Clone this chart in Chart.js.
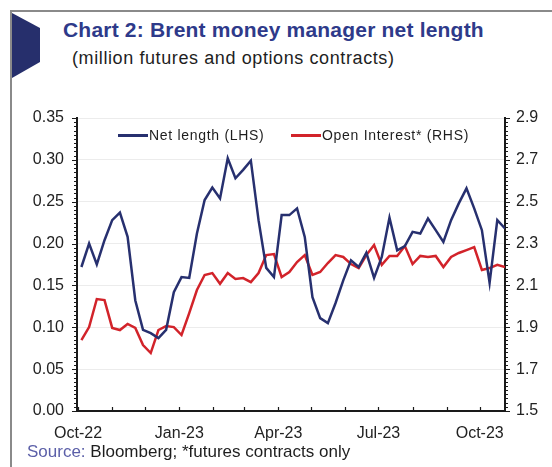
<!DOCTYPE html>
<html lang="en">
<head>
    <meta charset="UTF-8">
    <title>Brent money manager net length</title>
    <script src="https://cdn.jsdelivr.net/npm/chart.js"></script>
    <style>
        body {
            margin: 0;
            width: 552px;
            height: 467px;
            overflow: hidden;
            background: #fff;
            font-family: "Liberation Sans", Arial, sans-serif;
            position: relative;
        }

        .frame {
            position: absolute;
            left: 10px;
            top: 10px;
            width: 600px;
            height: 500px;
            border-left: 2px solid #8a8a8a;
            border-top: 2px solid #8a8a8a;
        }

        .badge {
            position: absolute;
            left: 12px;
            top: 13px;
        }

        .title {
            position: absolute;
            left: 63px;
            top: 18px;
            font-size: 21px;
            letter-spacing: 0.2px;
            font-weight: bold;
            color: #2e3a8a;
            white-space: nowrap;
        }

        .subtitle {
            position: absolute;
            left: 72px;
            top: 48px;
            font-size: 18px;
            letter-spacing: 0.6px;
            color: #1e1e1e;
            white-space: nowrap;
        }

        #chart {
            position: absolute;
            left: 0;
            top: 0;
        }

        .legend-item {
            position: absolute;
            top: 127px;
            font-size: 14px;
            color: #1e1e1e;
            white-space: nowrap;
            letter-spacing: 0.7px;
        }

        .legend-item i {
            display: inline-block;
            width: 30px;
            height: 2.5px;
            vertical-align: middle;
            margin-right: 1px;
            position: relative;
            top: -1px;
        }

        .source {
            position: absolute;
            left: 27px;
            top: 442px;
            font-size: 17px;
            color: #1e1e1e;
            white-space: nowrap;
        }

        .source span {
            color: #5b5fa8;
        }
    </style>
</head>
<body>

    <div class="frame"></div>
    <svg class="badge" width="30" height="68">
        <polygon points="0,0 28,15 28,49 0,65" fill="#262f6c" />
    </svg>
    <div class="title">Chart 2: Brent money manager net length</div>
    <div class="subtitle">(million futures and options contracts)</div>

    <canvas id="chart" width="552" height="467"></canvas>

    <div class="legend-item" style="left:118px"><i style="background:#27306f"></i>Net length (LHS)</div>
    <div class="legend-item" style="left:291px"><i style="background:#d2232a"></i>Open Interest* (RHS)</div>

    <div class="source"><span>Source:</span> Bloomberg; *futures contracts only</div>

    <script>
        // weekly observations (Tuesdays)
        const weeks = [
            '2022-10-04', '2022-10-11', '2022-10-18', '2022-10-25',
            '2022-11-01', '2022-11-08', '2022-11-15', '2022-11-22', '2022-11-29',
            '2022-12-06', '2022-12-13', '2022-12-20', '2022-12-27',
            '2023-01-03', '2023-01-10', '2023-01-17', '2023-01-24', '2023-01-31',
            '2023-02-07', '2023-02-14', '2023-02-21', '2023-02-28',
            '2023-03-07', '2023-03-14', '2023-03-21', '2023-03-28',
            '2023-04-04', '2023-04-11', '2023-04-18', '2023-04-25',
            '2023-05-02', '2023-05-09', '2023-05-16', '2023-05-23', '2023-05-30',
            '2023-06-06', '2023-06-13', '2023-06-20', '2023-06-27',
            '2023-07-04', '2023-07-11', '2023-07-18', '2023-07-25',
            '2023-08-01', '2023-08-08', '2023-08-15', '2023-08-22', '2023-08-29',
            '2023-09-05', '2023-09-12', '2023-09-19', '2023-09-26',
            '2023-10-03', '2023-10-10', '2023-10-17', '2023-10-24'
        ];

        // million contracts, left axis
        const netLength = [
            0.172, 0.200, 0.175, 0.204, 0.228, 0.237, 0.208, 0.132, 0.097, 0.093,
            0.087, 0.097, 0.142, 0.160, 0.159, 0.212, 0.252, 0.267, 0.254, 0.302,
            0.278, 0.288, 0.299, 0.228, 0.171, 0.160, 0.234, 0.234, 0.242, 0.208,
            0.136, 0.111, 0.105, 0.129, 0.156, 0.180, 0.172, 0.189, 0.159, 0.184,
            0.231, 0.192, 0.197, 0.214, 0.212, 0.230, 0.216, 0.202, 0.228, 0.248,
            0.266, 0.242, 0.216, 0.153, 0.228, 0.218
        ];

        // million contracts, right axis
        const openInterest = [
            1.839, 1.901, 2.035, 2.030, 1.897, 1.887, 1.916, 1.897, 1.815, 1.777,
            1.887, 1.906, 1.901, 1.863, 1.968, 2.078, 2.150, 2.159, 2.108, 2.159,
            2.131, 2.135, 2.116, 2.159, 2.245, 2.250, 2.140, 2.164, 2.212, 2.245,
            2.150, 2.164, 2.207, 2.245, 2.236, 2.202, 2.183, 2.245, 2.293, 2.198,
            2.241, 2.241, 2.288, 2.202, 2.241, 2.236, 2.241, 2.188, 2.236, 2.255,
            2.269, 2.283, 2.174, 2.183, 2.198, 2.188
        ];

        const xLabels = ['Oct-22', 'Jan-23', 'Apr-23', 'Jul-23', 'Oct-23'];
        const xLabelDates = ['2022-10-01', '2023-01-01', '2023-04-01', '2023-07-01', '2023-10-01'];
        const monthStarts = [
            '2022-10-01', '2022-11-01', '2022-12-01', '2023-01-01', '2023-02-01',
            '2023-03-01', '2023-04-01', '2023-05-01', '2023-06-01', '2023-07-01',
            '2023-08-01', '2023-09-01', '2023-10-01'
        ];

        const origin = Date.parse('2022-10-01');
        function dayOf(s) {
            return (Date.parse(s) - origin) / 86400000;
        }

        const labelDays = xLabelDates.map(dayOf);

        // axis tick marks (major + minor), drawn after the chart
        const tickMarks = {
            id: 'tickMarks',
            afterDraw(chart) {
                const ctx = chart.ctx;
                const a = chart.chartArea;
                const y = chart.scales.y;
                const x = chart.scales.x;
                ctx.save();
                ctx.strokeStyle = '#1a1a1a';
                ctx.lineWidth = 1.2;
                ctx.beginPath();
                for (let i = 0; i <= 70; i++) {
                    const py = Math.round(y.getPixelForValue(i * 0.005)) + 0.5;
                    const len = i % 10 === 0 ? 5 : 3;
                    ctx.moveTo(a.left - len, py);
                    ctx.lineTo(a.left, py);
                    ctx.moveTo(a.right, py);
                    ctx.lineTo(a.right + len, py);
                }
                monthStarts.forEach(function (m) {
                    const px = Math.round(x.getPixelForValue(dayOf(m))) + 0.5;
                    ctx.moveTo(px, a.bottom);
                    ctx.lineTo(px, a.bottom - 4);
                });
                ctx.stroke();
                ctx.restore();
            }
        };

        const tickFont = { family: '"Liberation Sans", Arial, sans-serif', size: 16 };

        new Chart(document.getElementById('chart'), {
            type: 'line',
            data: {
                datasets: [{
                    label: 'Net length (LHS)',
                    data: weeks.map((w, i) => ({ x: dayOf(w), y: netLength[i] })),
                    borderColor: '#27306f',
                    borderWidth: 2.5,
                    pointRadius: 0,
                    yAxisID: 'y'
                }, {
                    label: 'Open Interest* (RHS)',
                    data: weeks.map((w, i) => ({ x: dayOf(w), y: openInterest[i] })),
                    borderColor: '#d2232a',
                    borderWidth: 2.5,
                    pointRadius: 0,
                    yAxisID: 'y1'
                }]
            },
            options: {
                responsive: false,
                animation: false,
                layout: { padding: { top: 118, left: 0, right: 0, bottom: 0 } },
                plugins: {
                    legend: { display: false },
                    tooltip: { enabled: false }
                },
                scales: {
                    x: {
                        type: 'linear',
                        min: -1,
                        max: dayOf(weeks[weeks.length - 1]),
                        afterFit(s) { s.height = 56; },
                        afterBuildTicks(s) { s.ticks = labelDays.map(v => ({ value: v })); },
                        grid: { display: false, drawTicks: false },
                        border: { display: true, color: '#1a1a1a', width: 2 },
                        ticks: {
                            font: tickFont,
                            color: '#222',
                            padding: 13,
                            maxRotation: 0,
                            autoSkip: false,
                            callback: v => xLabels[labelDays.indexOf(v)] || ''
                        }
                    },
                    y: {
                        position: 'left',
                        min: 0,
                        max: 0.35,
                        afterFit(s) { s.width = 77; },
                        grid: { color: '#ececec', drawTicks: false },
                        border: { display: true, color: '#1a1a1a', width: 2 },
                        ticks: {
                            stepSize: 0.05,
                            font: tickFont,
                            color: '#222',
                            padding: 13,
                            callback: v => v.toFixed(2)
                        }
                    },
                    y1: {
                        position: 'right',
                        min: 1.5,
                        max: 2.9,
                        afterFit(s) { s.width = 47; },
                        grid: { display: false, drawTicks: false },
                        border: { display: true, color: '#1a1a1a', width: 2 },
                        ticks: {
                            stepSize: 0.2,
                            font: tickFont,
                            color: '#222',
                            padding: 11,
                            callback: v => v.toFixed(1)
                        }
                    }
                }
            },
            plugins: [tickMarks]
        });
    </script>

</body>
</html>
